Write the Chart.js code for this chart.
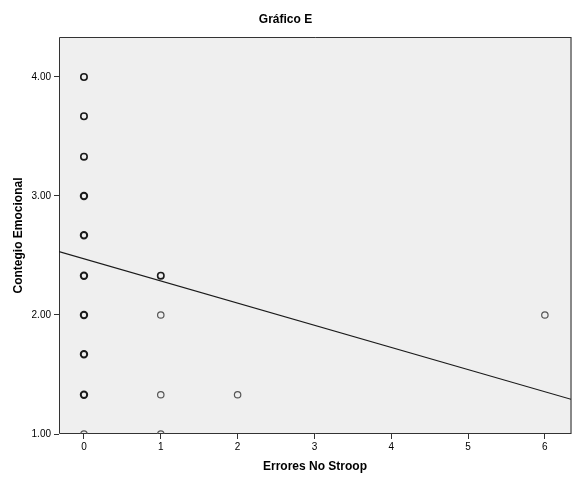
<!DOCTYPE html>
<html>
<head>
<meta charset="utf-8">
<script src="https://cdn.jsdelivr.net/npm/chart.js@4/dist/chart.umd.min.js"></script>
<style>
  html, body { margin: 0; padding: 0; background: #fff; }
  canvas { display: block; }
</style>
</head>
<body>
<canvas id="grafico" width="573" height="487"></canvas>
<script>
// Datos (Errores No Stroop vs Contegio Emocional)
const errores  = [0, 0, 0, 0, 0, 0, 0, 0, 0, 0, 1, 1, 1, 1, 2, 6];
const contegio = [4.00, 3.67, 3.33, 3.00, 2.67, 2.33, 2.00, 1.67, 1.33, 1.00, 2.33, 2.00, 1.33, 1.00, 1.33, 2.00];
// casos superpuestos (círculos más gruesos)
const repetidos = [2, 2, 2, 3, 3, 3, 3, 3, 3, 1, 2, 1, 1, 1, 1, 1];
// recta de ajuste (extremos del área)
const ajusteX = [-0.325, 6.34];
const ajusteY = [2.532, 1.292];
const xTicks = [0, 1, 2, 3, 4, 5, 6];
const yTicks = [1, 2, 3, 4];

const puntos = errores.map((x, i) => ({ x: x, y: contegio[i] }));
const recta = ajusteX.map((x, i) => ({ x: x, y: ajusteY[i] }));

// fondo gris y marco del área de datos
const marco = {
  id: 'marco',
  beforeDraw(chart) {
    const a = chart.chartArea, ctx = chart.ctx;
    ctx.save();
    ctx.fillStyle = '#efefef';
    ctx.fillRect(a.left, a.top, a.right - a.left, a.bottom - a.top);
    ctx.restore();
  },
  beforeDatasetsDraw(chart) {
    const a = chart.chartArea, ctx = chart.ctx;
    ctx.save();
    ctx.strokeStyle = '#888';
    ctx.lineWidth = 2;
    ctx.beginPath(); ctx.moveTo(a.right, a.top); ctx.lineTo(a.right, a.bottom); ctx.stroke();
    ctx.strokeStyle = '#333';
    ctx.lineWidth = 1;
    ctx.beginPath();
    ctx.moveTo(a.right, a.top + 0.5); ctx.lineTo(a.left + 0.5, a.top + 0.5);
    ctx.lineTo(a.left + 0.5, a.bottom - 0.5); ctx.lineTo(a.right, a.bottom - 0.5);
    ctx.stroke();
    ctx.restore();
  }
};

const fuente = 'Arial, "Liberation Sans", sans-serif';

new Chart(document.getElementById('grafico'), {
  type: 'scatter',
  data: {
    datasets: [
      {
        data: puntos,
        backgroundColor: 'rgba(0,0,0,0)',
        borderColor: repetidos.map(n => n > 1 ? '#1a1a1a' : '#555'),
        borderWidth: repetidos.map(n => n > 2 ? 2 : (n > 1 ? 1.6 : 1.2)),
        pointRadius: 3.2,
        pointHoverRadius: 3.2
      },
      {
        type: 'line',
        data: recta,
        borderColor: '#1a1a1a',
        borderWidth: 1.2,
        pointRadius: 0,
        fill: false
      }
    ]
  },
  options: {
    responsive: false,
    animation: false,
    layout: { autoPadding: false, padding: { left: 0, right: 2, top: 0, bottom: 0 } },
    plugins: {
      legend: { display: false },
      tooltip: { enabled: false },
      title: {
        display: true,
        text: 'Gráfico E',
        color: '#000',
        font: { family: fuente, size: 12, weight: 'bold' },
        padding: { top: 12, bottom: 10.6 }
      }
    },
    scales: {
      x: {
        type: 'linear',
        min: ajusteX[0],
        max: ajusteX[1],
        afterBuildTicks: s => { s.ticks = xTicks.map(v => ({ value: v })); },
        afterFit: s => { s.height = 53; s.paddingLeft = 0; s.paddingRight = 0; },
        grid: { drawOnChartArea: false, drawTicks: true, tickLength: 5, color: '#333' },
        border: { display: false },
        ticks: { color: '#000', padding: 2, font: { family: fuente, size: 10 } },
        title: {
          display: true,
          text: 'Errores No Stroop',
          color: '#000',
          font: { family: fuente, size: 12, weight: 'bold' },
          padding: { top: 0, bottom: 12.8 }
        }
      },
      y: {
        type: 'linear',
        min: 1,
        max: 4.336,
        afterBuildTicks: s => { s.ticks = yTicks.map(v => ({ value: v })); },
        afterFit: s => { s.width = 59; s.paddingTop = 0; s.paddingBottom = 0; },
        grid: { drawOnChartArea: false, drawTicks: true, tickLength: 5, color: '#333' },
        border: { display: false },
        ticks: {
          color: '#000', padding: 3,
          font: { family: fuente, size: 10 },
          callback: v => v.toFixed(2)
        },
        title: {
          display: true,
          text: 'Contegio Emocional',
          color: '#000',
          font: { family: fuente, size: 12, weight: 'bold' },
          padding: { top: 11, bottom: 0 }
        }
      }
    }
  },
  plugins: [marco]
});
</script>
</body>
</html>
